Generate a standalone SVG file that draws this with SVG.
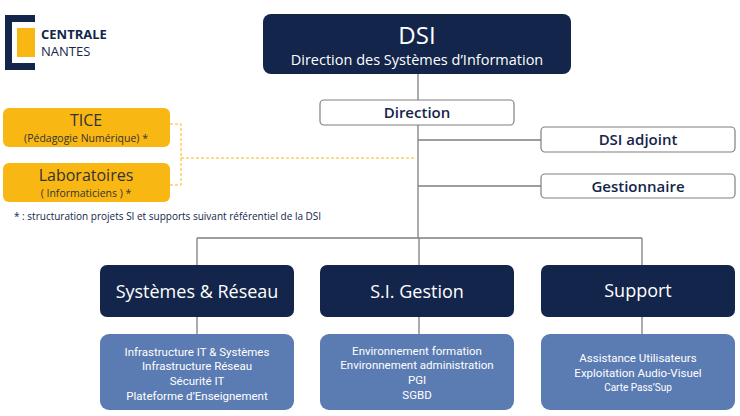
<svg xmlns="http://www.w3.org/2000/svg" width="740" height="416" viewBox="0 0 740 416">
<style>
text{font-family:"Open Sans","Noto Sans",sans-serif;text-anchor:middle}
.dk{fill:#13254a}
.wt{fill:#fff;stroke:#7f7f7f;stroke-width:1.2}
.lb{fill:#5b7bb3}
.or{fill:#f9b713}
.ln{stroke:#7f7f7f;stroke-width:1.3;fill:none}
.ds{stroke:#f9b713;stroke-width:1;stroke-dasharray:3 2;fill:none}
.h{fill:#fff;font-size:18px}
.s{fill:#fff;font-size:11.5px;font-family:"Roboto","Noto Sans",sans-serif}
.b{fill:#13254a;font-size:15px;font-weight:600}
</style>
<g id="logo">
<path d="M5 15H35V22H12V63H35V70H5Z" fill="#13254a"/>
<rect x="17" y="28" width="18" height="29" fill="#f9b713"/>
<text x="41" y="39" style="text-anchor:start;font-size:13px;font-weight:bold;fill:#13254a">CENTRALE</text>
<text x="41" y="56" style="text-anchor:start;font-size:13px;fill:#13254a">NANTES</text>
</g>
<g id="connectors">
<path class="ln" d="M418 74V238M418 140H541M418 186H541M197 238H642M197 238V265M419 238V265M642 238V265M197 317V334M419 317V334M642 317V334"/>
<path class="ds" d="M170 124H181V185H170M181 158H415"/>
</g>
<g id="dsi"><rect class="dk" x="263" y="14" width="308" height="60" rx="8"/>
<text x="417" y="44" style="fill:#fff;font-size:24px">DSI</text>
<text x="417" y="65" style="fill:#fff;font-size:14.5px">Direction des Systèmes d’Information</text></g>
<g id="direction"><rect class="wt" x="320" y="100" width="194" height="25" rx="4"/><text class="b" x="417" y="118">Direction</text></g>
<g id="adjoint"><rect class="wt" x="541" y="127" width="194" height="25" rx="4"/><text class="b" x="638" y="145">DSI adjoint</text></g>
<g id="gestionnaire"><rect class="wt" x="541" y="174" width="194" height="24" rx="4"/><text class="b" x="638" y="192">Gestionnaire</text></g>
<g id="tice"><rect class="or" x="3" y="108" width="167" height="39" rx="6"/>
<text x="86" y="126" style="fill:#333;font-size:16px">TICE</text>
<text x="86" y="142" style="fill:#333;font-size:10.5px">(Pédagogie Numérique) *</text></g>
<g id="labo"><rect class="or" x="3" y="163" width="167" height="39" rx="6"/>
<text x="86" y="181" style="fill:#333;font-size:16px">Laboratoires</text>
<text x="86" y="197" style="fill:#333;font-size:10.5px">( Informaticiens ) *</text></g>
<text x="14" y="220" style="text-anchor:start;fill:#13254a;font-size:10px">* : structuration projets SI et supports suivant référentiel de la DSI</text>
<g id="sysres"><rect class="dk" x="100" y="265" width="194" height="52" rx="7"/><text class="h" x="197" y="298">Systèmes &amp; Réseau</text></g>
<g id="sig"><rect class="dk" x="320" y="265" width="194" height="52" rx="7"/><text class="h" x="417" y="298">S.I. Gestion</text></g>
<g id="support"><rect class="dk" x="541" y="265" width="194" height="52" rx="7"/><text class="h" x="638" y="297">Support</text></g>
<g id="sysres-d"><rect class="lb" x="100" y="334" width="194" height="76" rx="9"/>
<text class="s" x="197" y="356">Infrastructure IT &amp; Systèmes</text>
<text class="s" x="197" y="370">Infrastructure Réseau</text>
<text class="s" x="197" y="385">Sécurité IT</text>
<text class="s" x="197" y="400">Plateforme d’Enseignement</text></g>
<g id="sig-d"><rect class="lb" x="320" y="334" width="194" height="76" rx="9"/>
<text class="s" x="417" y="355">Environnement formation</text>
<text class="s" x="417" y="369">Environnement administration</text>
<text class="s" x="417" y="384">PGI</text>
<text class="s" x="417" y="399">SGBD</text></g>
<g id="support-d"><rect class="lb" x="541" y="334" width="194" height="76" rx="9"/>
<text class="s" x="638" y="362">Assistance Utilisateurs</text>
<text class="s" x="638" y="377">Exploitation Audio-Visuel</text>
<text class="s" x="638" y="391" style="font-size:10px">Carte Pass’Sup</text></g>
</svg>
